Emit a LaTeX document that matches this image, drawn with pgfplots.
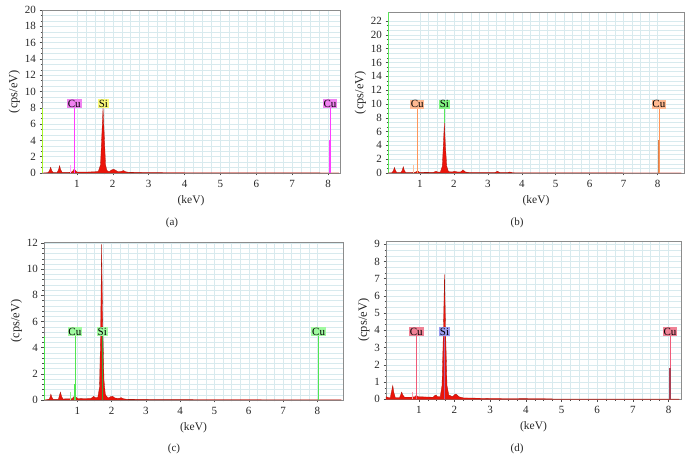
\documentclass[border=0pt]{standalone}
\usepackage{pgfplots}
\pgfplotsset{compat=1.18}
\usepackage{fontspec}
\setmainfont{Liberation Serif}
\definecolor{gridc}{RGB}{216,234,238}
\definecolor{axc}{RGB}{140,140,140}
\definecolor{spec}{RGB}{235,20,10}
\definecolor{specd}{RGB}{170,20,10}
\definecolor{cuA}{RGB}{255,60,255}
\definecolor{cuAf}{RGB}{240,130,240}
\definecolor{siA}{RGB}{240,240,60}
\definecolor{siAf}{RGB}{250,250,120}
\definecolor{cuB}{RGB}{255,150,90}
\definecolor{cuBf}{RGB}{255,185,145}
\definecolor{siB}{RGB}{90,230,90}
\definecolor{siBf}{RGB}{130,245,130}
\definecolor{cC}{RGB}{80,230,80}
\definecolor{cCf}{RGB}{160,250,160}
\definecolor{cuD}{RGB}{240,90,120}
\definecolor{cuDf}{RGB}{240,130,150}
\definecolor{siD}{RGB}{140,140,230}
\definecolor{siDf}{RGB}{155,155,240}
\pgfplotsset{eds/.style={
  scale only axis, anchor=south west,
  axis line style={draw=axc},
  tick align=outside, xtick pos=bottom, ytick pos=left,
  major tick length=2.5pt, minor tick length=1.5pt,
  tick style={draw=black!70, line width=0.4pt},
  xtick={1,...,8}, minor x tick num=3,
  grid=both, grid style={draw=gridc, line width=0.4pt},
  minor grid style={draw=gridc, line width=0.4pt},
  ticklabel style={font=\fontsize{11}{12}\selectfont, text=black!85},
  xticklabel style={yshift=-1pt},
  /pgf/number format/assume math mode=true,
  xlabel={(keV)}, ylabel={(cps/eV)},
  xlabel style={font=\fontsize{11.5}{12}\selectfont, text=black!85, yshift=-1pt},
  ylabel style={font=\fontsize{12.5}{13}\selectfont, text=black!85, yshift=-2pt},
  ymin=0, clip=false,
}}
\tikzset{lab/.style={inner sep=0.8pt, anchor=south, font=\fontsize{11}{11}\selectfont, yshift=-0.5pt}}
\begin{document}
\begin{tikzpicture}[x=1pt,y=1pt]
\useasboundingbox (0,0) rectangle (692,470);
% ---------------- (a)
\begin{axis}[eds, at={(42pt,297pt)}, width=298pt, height=163pt,
  xmin=0.03, xmax=8.33, ymax=20, ytick={0,2,...,20}, minor y tick num=2]
\addplot[siA!70!green, line width=0.8pt] coordinates {(0.05,0) (0.05,8)};
\addplot[draw=specd, fill=spec, line width=0.3pt] coordinates {
(0.05,0) (0.2,0.05) (0.24,0.3) (0.27,0.7) (0.30,0.3) (0.34,0.05) (0.45,0.05)
(0.49,0.4) (0.52,0.9) (0.55,0.4) (0.59,0.08) (0.7,0.08) (0.85,0.1) (0.9,0.3)
(0.93,0.5) (0.96,0.3) (1.0,0.12) (1.3,0.12) (1.5,0.15) (1.6,0.2) (1.66,1.0)
(1.70,5.0) (1.73,8.0) (1.76,5.0) (1.80,1.0) (1.84,0.3) (1.9,0.15) (1.96,0.35)
(2.02,0.45) (2.08,0.35) (2.14,0.15) (2.24,0.2) (2.3,0.3) (2.36,0.15) (2.45,0.08)
(3.0,0.05) (4.0,0.03) (5.0,0.02) (8.3,0.01)} \closedcycle;
\addplot[cuA, line width=0.6pt] coordinates {(0.93,0) (0.93,8.0)};
\addplot[cuA, line width=1.1pt] coordinates {(0.93,0) (0.93,2)};
\addplot[cuA!50, line width=0.6pt] coordinates {(0.81,0) (0.81,1.0)};
\addplot[cuA, line width=0.7pt] coordinates {(8.05,0) (8.05,8.0)};
\addplot[cuA, line width=1.4pt] coordinates {(8.05,0) (8.05,4.0)};
\node[lab, fill=cuAf] at (axis cs:0.93,8.0) {Cu};
\node[lab, fill=siAf] at (axis cs:1.74,8.0) {Si};
\node[lab, fill=cuAf] at (axis cs:8.05,8.0) {Cu};
\end{axis}
% ---------------- (b)
\begin{axis}[eds, at={(388pt,297pt)}, width=296pt, height=161pt,
  xmin=0.06, xmax=8.78, ymax=23.3, ytick={0,2,...,22}, minor y tick num=2]
\addplot[siB, line width=0.8pt] coordinates {(0.08,0) (0.08,23.3)};
\addplot[draw=specd, fill=spec, line width=0.3pt] coordinates {
(0.06,0) (0.18,0.05) (0.22,0.35) (0.25,0.8) (0.28,0.35) (0.32,0.05) (0.44,0.05)
(0.48,0.4) (0.51,0.9) (0.54,0.4) (0.58,0.05) (0.85,0.08) (0.9,0.2) (0.93,0.3)
(0.96,0.2) (1.0,0.08) (1.4,0.1) (1.45,0.2) (1.48,0.25) (1.52,0.15) (1.6,0.12)
(1.66,1.0) (1.69,4.0) (1.72,7.2) (1.75,4.0) (1.79,1.0) (1.84,0.2) (1.95,0.15)
(2.02,0.25) (2.1,0.15) (2.2,0.15) (2.27,0.45) (2.34,0.15) (2.45,0.06) (3.2,0.05)
(3.28,0.25) (3.36,0.05) (3.58,0.05) (3.65,0.15) (3.72,0.04) (4.0,0.02) (8.7,0.01)} \closedcycle;
\addplot[cuB, line width=0.7pt] coordinates {(0.92,0) (0.92,9.35)};
\addplot[cuB, line width=1.2pt] coordinates {(0.92,0) (0.92,2.3)};
\addplot[cuB!60, line width=0.6pt] coordinates {(0.80,0) (0.80,1.2)};
\addplot[siB, line width=0.5pt] coordinates {(1.72,7.2) (1.72,9.35)};
\addplot[cuB, line width=0.7pt] coordinates {(8.04,0) (8.04,9.35)};
\addplot[cuB!85!black, line width=1.2pt] coordinates {(8.04,0) (8.04,4.8)};
\node[lab, fill=cuBf] at (axis cs:0.92,9.35) {Cu};
\node[lab, fill=siBf] at (axis cs:1.72,9.35) {Si};
\node[lab, fill=cuBf] at (axis cs:8.04,9.35) {Cu};
\end{axis}
% ---------------- (c)
\begin{axis}[eds, at={(44pt,70pt)}, width=299pt, height=158pt,
  xmin=0.03, xmax=8.75, ymax=12.08, ytick={0,2,...,12}, minor y tick num=4]
\addplot[cC, line width=0.8pt] coordinates {(0.05,0) (0.05,4.9)};
\addplot[draw=specd, fill=spec, line width=0.3pt] coordinates {
(0.04,0) (0.18,0.05) (0.21,0.25) (0.23,0.45) (0.26,0.2) (0.3,0.05) (0.45,0.05)
(0.48,0.35) (0.51,0.6) (0.54,0.3) (0.58,0.08) (0.85,0.1) (0.9,0.25) (0.93,0.35)
(0.97,0.2) (1.02,0.1) (1.4,0.12) (1.45,0.22) (1.48,0.28) (1.52,0.18) (1.6,0.2)
(1.65,1.0) (1.68,5.0) (1.71,11.9) (1.74,6.0) (1.78,1.5) (1.82,0.4) (1.9,0.15)
(1.97,0.25) (2.03,0.28) (2.1,0.15) (2.22,0.12) (2.28,0.18) (2.34,0.1) (2.45,0.05)
(3.5,0.03) (8.7,0.01)} \closedcycle;
\addplot[cC, line width=0.7pt] coordinates {(0.93,0) (0.93,4.9)};
\addplot[cC, line width=1.2pt] coordinates {(0.93,0) (0.93,1.2)};
\addplot[cC!60, line width=0.6pt] coordinates {(0.81,0) (0.81,0.6)};
\addplot[cC!70!black, line width=0.5pt] coordinates {(1.73,0) (1.73,4.9)};
\addplot[cC, line width=0.7pt] coordinates {(8.04,0) (8.04,4.9)};
\addplot[cC, line width=1.2pt] coordinates {(8.04,0) (8.04,2.5)};
\node[lab, fill=cCf] at (axis cs:0.93,4.9) {Cu};
\node[lab, fill=cCf] at (axis cs:1.73,4.9) {Si};
\node[lab, fill=cCf] at (axis cs:8.04,4.9) {Cu};
\end{axis}
% ---------------- (d)
\begin{axis}[eds, at={(386pt,70.7pt)}, width=295pt, height=158pt,
  xmin=0.08, xmax=8.35, ymax=9.17, ytick={0,1,...,9}, minor y tick num=2]
\addplot[draw=specd, fill=spec, line width=0.3pt] coordinates {
(0.08,0) (0.08,0.15) (0.15,0.1) (0.2,0.1) (0.24,0.5) (0.27,0.8) (0.3,0.4) (0.34,0.1)
(0.46,0.1) (0.5,0.3) (0.52,0.42) (0.55,0.25) (0.6,0.12) (0.78,0.12) (0.9,0.15)
(0.93,0.25) (0.97,0.15) (1.4,0.12) (1.45,0.22) (1.48,0.25) (1.52,0.15) (1.6,0.15)
(1.65,0.8) (1.69,4.0) (1.72,7.25) (1.75,4.0) (1.79,0.8) (1.84,0.25) (1.95,0.15)
(2.02,0.3) (2.06,0.28) (2.12,0.15) (2.25,0.08) (3.0,0.05) (4.7,0.03) (4.8,0.01)
(8.3,0.01)} \closedcycle;
\addplot[cuD, line width=0.7pt] coordinates {(0.93,0) (0.93,3.67)};
\addplot[cuD, line width=1.2pt] coordinates {(0.93,0) (0.93,0.9)};
\addplot[cuD!60, line width=0.6pt] coordinates {(0.81,0) (0.81,0.45)};
\addplot[siD!70!red, line width=0.5pt] coordinates {(1.72,0) (1.72,3.67)};
\addplot[cuD, line width=0.7pt] coordinates {(8.04,0) (8.04,3.67)};
\addplot[cuD!70!black, line width=1.2pt] coordinates {(8.04,0) (8.04,1.8)};
\node[lab, fill=cuDf] at (axis cs:0.93,3.67) {Cu};
\node[lab, fill=siDf] at (axis cs:1.72,3.67) {Si};
\node[lab, fill=cuDf] at (axis cs:8.04,3.67) {Cu};
\end{axis}
% captions
\node[font=\fontsize{11}{12}\selectfont, text=black!85] at (172,247) {(a)};
\node[font=\fontsize{11}{12}\selectfont, text=black!85] at (517,247) {(b)};
\node[font=\fontsize{11}{12}\selectfont, text=black!85] at (174,21) {(c)};
\node[font=\fontsize{11}{12}\selectfont, text=black!85] at (517,21) {(d)};
\end{tikzpicture}
\end{document}
